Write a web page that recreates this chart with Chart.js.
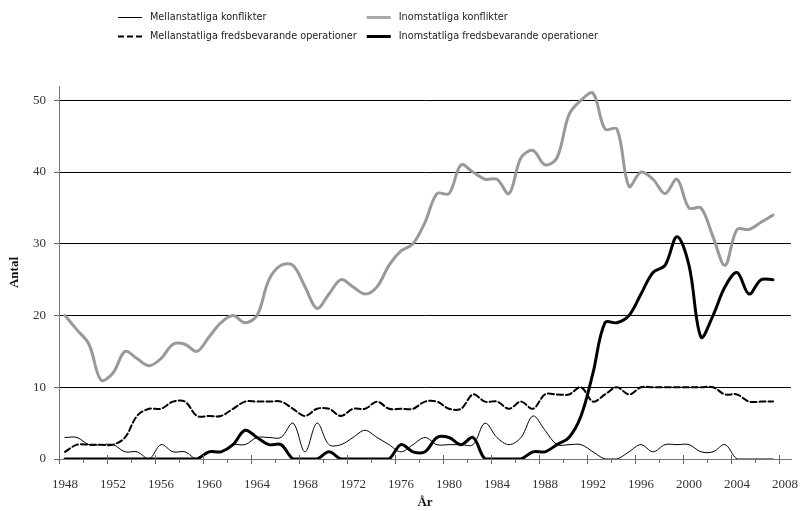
<!DOCTYPE html>
<html>
<head>
<meta charset="utf-8">
<script src="https://cdn.jsdelivr.net/npm/chart.js@4.4.1/dist/chart.umd.min.js"></script>
<style>
  body { margin: 0; background: #fff; }
  #wrap { width: 800px; height: 511px; }
</style>
</head>
<body>
<div id="wrap"><canvas id="chart" width="800" height="511"></canvas></div>
<script>
// categories (2008 has no data, only the axis label)
const years = ['1948','1949','1950','1951','1952','1953','1954','1955','1956','1957',
  '1958','1959','1960','1961','1962','1963','1964','1965','1966','1967',
  '1968','1969','1970','1971','1972','1973','1974','1975','1976','1977',
  '1978','1979','1980','1981','1982','1983','1984','1985','1986','1987',
  '1988','1989','1990','1991','1992','1993','1994','1995','1996','1997',
  '1998','1999','2000','2001','2002','2003','2004','2005','2006','2007','2008'];
const xTickLabels = ['1948','1952','1956','1960','1964','1968','1972','1976','1980','1984','1988','1992','1996','2000','2004','2008'];
const yTicks = [0, 10, 20, 30, 40, 50];

// series, 1948-2007
const interConflicts = [3,3,2,2,2,1,1,0,2,1, 1,0,1,1,2,2,3,3,3,5, 1,5,2,2,3,4,3,2,1,2,
  3,2,2,2,2,5,3,2,3,6, 4,2,2,2,1,0,0,1,2,1, 2,2,2,1,1,2,0,0,0,0];
const intraConflicts = [20,18,16,11,12,15,14,13,14,16, 16,15,17,19,20,19,20,25,27,27, 24,21,23,25,24,23,24,27,29,30,
  33,37,37,41,40,39,39,37,42,43, 41,42,48,50,51,46,46,38,40,39, 37,39,35,35,31,27,32,32,33,34];
const interPeace = [1,2,2,2,2,3,6,7,7,8, 8,6,6,6,7,8,8,8,8,7, 6,7,7,6,7,7,8,7,7,7,
  8,8,7,7,9,8,8,7,8,7, 9,9,9,10,8,9,10,9,10,10, 10,10,10,10,10,9,9,8,8,8];
const intraPeace = [0,0,0,0,0,0,0,0,0,0, 0,0,1,1,2,4,3,2,2,0, 0,0,1,0,0,0,0,0,2,1,
  1,3,3,2,3,0,0,0,0,1, 1,2,3,6,12,19,19,20,23,26, 27,31,27,17,20,24,26,23,25,25];

const serif = "'Liberation Serif', 'DejaVu Serif', serif";
const GRAY = '#969a9a';

// two-column legend above the plot
const legendPlugin = {
  id: 'twoColLegend',
  afterDraw(chart) {
    const ctx = chart.ctx;
    const sets = chart.data.datasets;
    ctx.save();
    ctx.font = "9.7px 'DejaVu Sans', sans-serif";
    ctx.textBaseline = 'middle';
    const left = 118, rowY = [17.5, 36.5];
    const col1W = Math.max(ctx.measureText(sets[0].label).width, ctx.measureText(sets[2].label).width);
    const colX = [left, left + 32 + col1W + 10];
    sets.forEach((ds, i) => {
      const x = colX[i % 2], y = rowY[Math.floor(i / 2)];
      ctx.strokeStyle = ds.legendColor || ds.borderColor;
      ctx.lineWidth = ds.borderWidth;
      ctx.setLineDash(ds.borderDash || []);
      ctx.beginPath();
      ctx.moveTo(x, y);
      ctx.lineTo(x + 24, y);
      ctx.stroke();
      ctx.setLineDash([]);
      ctx.fillStyle = '#222';
      ctx.fillText(ds.label, x + 32, y);
    });
    ctx.restore();
  }
};

// tick marks between categories on the x axis
const xTickPlugin = {
  id: 'xTickMarks',
  afterDraw(chart) {
    const sx = chart.scales.x, ctx = chart.ctx;
    const half = (sx.getPixelForValue(1) - sx.getPixelForValue(0)) / 2;
    const y = sx.top;
    ctx.save();
    ctx.strokeStyle = '#666';
    ctx.lineWidth = 1;
    for (let k = 0; k < years.length; k += 2) {
      const x = Math.round(sx.getPixelForValue(k) - half) + 0.5;
      ctx.beginPath();
      if (k % 4 === 0) { ctx.moveTo(x, y - 4); ctx.lineTo(x, y + 5); }
      else { ctx.moveTo(x, y); ctx.lineTo(x, y + 4); }
      ctx.stroke();
    }
    ctx.restore();
  }
};

new Chart(document.getElementById('chart'), {
  type: 'line',
  data: {
    labels: years,
    datasets: [
      { label: 'Mellanstatliga konflikter', data: interConflicts, borderColor: '#000', borderWidth: 1, order: 1 },
      { label: 'Inomstatliga konflikter', data: intraConflicts, borderColor: GRAY, legendColor: '#a8abab', borderWidth: 3, order: 2 },
      { label: 'Mellanstatliga fredsbevarande operationer', data: interPeace, borderColor: '#000', borderWidth: 2, borderDash: [6, 3], order: 3 },
      { label: 'Inomstatliga fredsbevarande operationer', data: intraPeace, borderColor: '#000', borderWidth: 3, order: 0 }
    ]
  },
  options: {
    responsive: false,
    animation: false,
    layout: { padding: { top: 86, right: 9, bottom: 0, left: 0 } },
    elements: {
      point: { radius: 0 },
      line: { tension: 0.35, fill: false, borderCapStyle: 'round', borderJoinStyle: 'round' }
    },
    plugins: { legend: { display: false }, tooltip: { enabled: false } },
    scales: {
      x: {
        type: 'category',
        offset: true,
        grid: { display: false },
        border: { display: true, color: '#777', width: 1 },
        ticks: {
          autoSkip: false, maxRotation: 0, minRotation: 0, padding: 10,
          color: '#333', font: { family: serif, size: 13 },
          callback: (v, i) => xTickLabels.includes(years[i]) ? years[i] : ''
        },
        title: { display: true, text: 'År', color: '#111', font: { family: serif, size: 13, weight: 'bold' }, padding: { top: 0, bottom: 1 } },
        afterFit: s => { s.height = 52; s.paddingLeft = 0; s.paddingRight = 0; }
      },
      y: {
        min: 0, max: 52,
        afterBuildTicks: s => { s.ticks = yTicks.map(v => ({ value: v })); },
        grid: {
          color: c => c.tick && c.tick.value === 0 ? '#777' : '#000',
          lineWidth: 1, tickLength: 5, tickColor: '#666'
        },
        border: { display: true, color: '#777', width: 1 },
        ticks: { padding: 8, color: '#333', font: { family: serif, size: 13 } },
        title: { display: true, text: 'Antal', color: '#111', font: { family: serif, size: 13, weight: 'bold' }, padding: { top: 7, bottom: 0 } },
        afterFit: s => { s.width = 59; }
      }
    }
  },
  plugins: [legendPlugin, xTickPlugin]
});
</script>
</body>
</html>
